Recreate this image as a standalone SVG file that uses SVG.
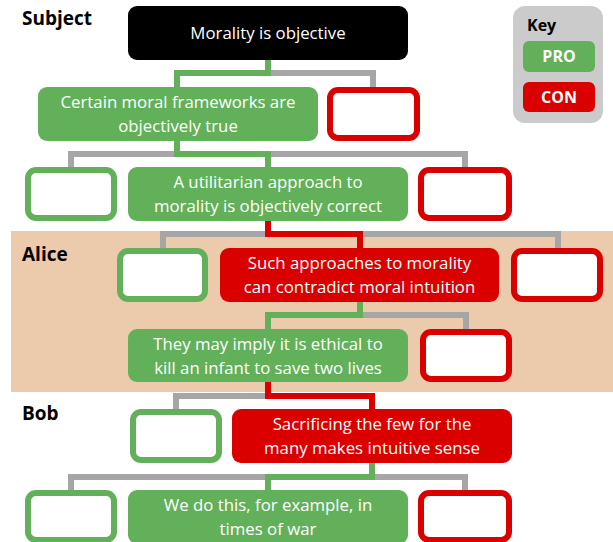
<svg xmlns="http://www.w3.org/2000/svg" width="613" height="542" viewBox="0 0 613 542">
<style>
.t{font-family:"Open Sans","Liberation Sans",sans-serif;font-size:16.8px;fill:#fff;text-anchor:middle}
.lbl{font-family:"Open Sans","Liberation Sans",sans-serif;font-size:19px;font-weight:bold;fill:#000}
.kt{font-family:"Open Sans","Liberation Sans",sans-serif;font-size:16px;font-weight:bold;fill:#fff;text-anchor:middle}
.pro{fill:#63B05B}
.con{fill:#DA0000}
.ep{fill:#fff;stroke:#63B05B;stroke-width:6}
.ec{fill:#fff;stroke:#DA0000;stroke-width:6}
.c{fill:none;stroke-width:6;stroke-linejoin:miter;stroke-linecap:butt}
.cg{stroke:#A6A6A6}
.cp{stroke:#63B05B}
.cc{stroke:#DA0000}
</style>
<rect x="11" y="231" width="602" height="161" fill="#ECCAAC"/>
<text class="lbl" x="22" y="25">Subject</text>
<text class="lbl" x="22" y="261">Alice</text>
<text class="lbl" x="22" y="420">Bob</text>
<g id="connectors">
<path class="c cg" d="M268 73H373V87M177 154H71V167M177 154H465V167M268 234H163V248M268 234H558V248M360 315H466V329M268 396H176V409M372 477H71V490M372 477H465V490"/>
<path class="c cp" d="M268 60V73H177V87M177 141V154H268V167M360 302V315H268V329M372 463V477H268V490"/>
<path class="c cc" d="M268 221V234H360V248M268 382V396H372V409"/>
</g>
<g id="n0"><rect x="128" y="6" width="280" height="54" rx="9" fill="#000"/><text class="t" x="268" y="39">Morality is objective</text></g>
<g id="n1"><rect class="pro" x="38" y="87" width="280" height="54" rx="9"/><text class="t" x="178" y="108">Certain moral frameworks are</text><text class="t" x="178" y="132">objectively true</text></g>
<g id="n1c"><rect class="ec" x="330" y="90" width="87" height="48" rx="8"/></g>
<g id="n2p"><rect class="ep" x="28" y="170" width="86" height="48" rx="8"/></g>
<g id="n2"><rect class="pro" x="128" y="167" width="280" height="54" rx="9"/><text class="t" x="268" y="188">A utilitarian approach to</text><text class="t" x="268" y="212">morality is objectively correct</text></g>
<g id="n2c"><rect class="ec" x="421" y="170" width="88" height="48" rx="8"/></g>
<g id="n3p"><rect class="ep" x="120" y="251" width="85" height="48" rx="8"/></g>
<g id="n3"><rect class="con" x="220" y="248" width="279" height="54" rx="9"/><text class="t" x="359.5" y="269">Such approaches to morality</text><text class="t" x="359.5" y="293">can contradict moral intuition</text></g>
<g id="n3c"><rect class="ec" x="514" y="251" width="86" height="48" rx="8"/></g>
<g id="n4"><rect class="pro" x="128" y="329" width="280" height="53" rx="9"/><text class="t" x="268" y="350">They may imply it is ethical to</text><text class="t" x="268" y="374">kill an infant to save two lives</text></g>
<g id="n4c"><rect class="ec" x="423" y="332" width="86" height="47" rx="8"/></g>
<g id="n5p"><rect class="ep" x="133" y="412" width="86" height="48" rx="8"/></g>
<g id="n5"><rect class="con" x="232" y="409" width="280" height="54" rx="9"/><text class="t" x="372" y="430">Sacrificing the few for the</text><text class="t" x="372" y="454">many makes intuitive sense</text></g>
<g id="n6p"><rect class="ep" x="28" y="493" width="86" height="47" rx="8"/></g>
<g id="n6"><rect class="pro" x="128" y="490" width="280" height="54" rx="9"/><text class="t" x="268" y="511">We do this, for example, in</text><text class="t" x="268" y="535">times of war</text></g>
<g id="n6c"><rect class="ec" x="421" y="493" width="88" height="47" rx="8"/></g>
<g id="key">
<rect x="513" y="6" width="90" height="117" rx="12" fill="#CBCBCB"/>
<text x="527" y="31" style="font-family:'Open Sans','Liberation Sans',sans-serif;font-size:16px;font-weight:bold;fill:#000">Key</text>
<rect class="pro" x="523" y="41" width="72" height="31" rx="6"/>
<text class="kt" x="559" y="62">PRO</text>
<rect class="con" x="523" y="82" width="72" height="30" rx="6"/>
<text class="kt" x="559" y="103">CON</text>
</g>
</svg>
